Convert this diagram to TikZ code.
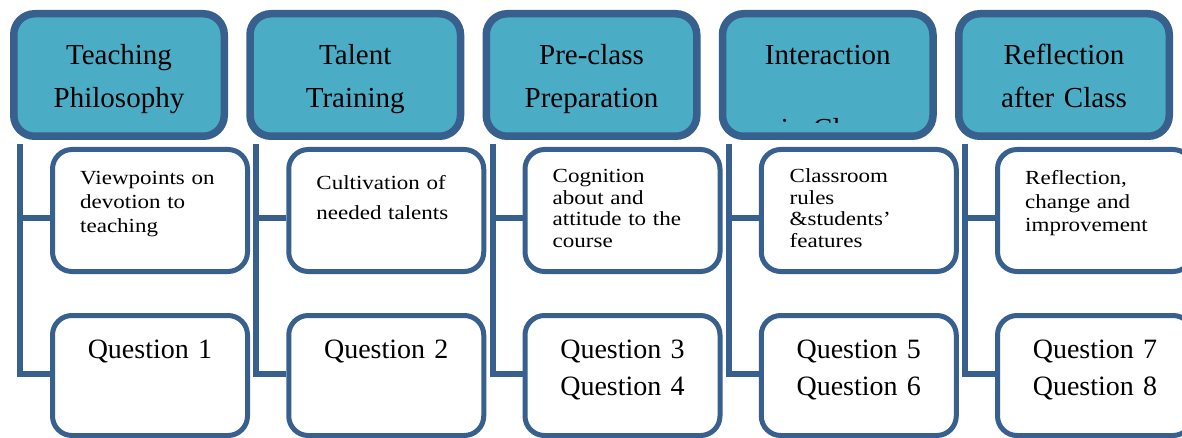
\documentclass[tikz,border=0pt]{standalone}
\usepackage{fontspec}
\setmainfont{Liberation Serif}
% slightly widened face for the small item texts
\newfontfamily\wideserif[FakeStretch=1.15]{Liberation Serif}
\definecolor{hdrfill}{HTML}{4BACC6}
\definecolor{edgeblue}{HTML}{37608F}
\begin{document}
\begin{tikzpicture}[x=1pt,y=-1pt,
  header/.style={draw=edgeblue, fill=hdrfill, line width=7.5pt, rounded corners=21pt,
    minimum width=210.5pt, minimum height=122.5pt, inner sep=0pt},
  leaf/.style={draw=edgeblue, fill=white, line width=5pt, rounded corners=19.5pt,
    minimum width=195pt, inner sep=0pt},
  conn/.style={draw=edgeblue, line width=6pt},
  htext/.style={anchor=base, text width=210pt, align=center, inner sep=0pt,
    font=\fontsize{29}{43}\selectfont},
  ltext/.style={anchor=base west, text width=170pt, align=left, inner sep=0pt},
  qtext/.style={anchor=base, text width=190pt, align=center, inner sep=0pt,
    font=\fontsize{28}{37}\selectfont}]
\clip (0,0) rectangle (1182,438);

% column headers
\node[header] (h1) at (119,75) {};
\node[header] (h2) at (355.25,75) {};
\node[header] (h3) at (591.5,75) {};
\node[header] (h4) at (827.75,75) {};
\node[header] (h5) at (1064,75) {};

\node[htext] (th1) at (119,65) {Teaching\\Philosophy};
\node[htext] (th2) at (355.25,65) {Talent\\Training};
\node[htext] (th3) at (591.5,65) {Pre-class\\Preparation};
\node[htext] (th4) at (827.75,65) {Interaction};
\begin{scope}
  % second header line runs past the box and is cut off
  \clip (740,100) rectangle (915,122.5);
  \node[htext] (th4b) at (828.5,138.5) {in Class};
\end{scope}
\node[htext] (th5) at (1064,65) {Reflection\\after Class};

% first-level items
\foreach \i in {1,...,5} {
  \node[leaf, minimum height=122pt] (ca\i) at (150+236.25*\i-236.25,210.5) {};
  \node[leaf, minimum height=120pt] (cb\i) at (150+236.25*\i-236.25,375.5) {};
}

% connectors from each header to its two items
\foreach \i in {1,...,5} {
  \coordinate (s\i) at ([xshift=10pt,yshift=-4pt]h\i.south west);
  \draw[conn] (s\i) |- ([yshift=2pt]cb\i.west);
  \draw[conn] ([yshift=-7.5pt]ca\i.west) -| (s\i);
}

% item texts
\node[ltext, font=\wideserif\fontsize{20}{24}\selectfont] (ta1) at (80,185)
  {Viewpoints on\\devotion to\\teaching};
\node[ltext, font=\wideserif\fontsize{20}{30}\selectfont] (ta2) at (316.25,190)
  {Cultivation of\\needed talents};
\node[ltext, font=\wideserif\fontsize{20}{21.5}\selectfont] (ta3) at (552.5,183)
  {Cognition\\about and\\attitude to the\\course};
\node[ltext, font=\wideserif\fontsize{20}{21.5}\selectfont] (ta4) at (789.5,183)
  {Classroom\\rules\\\&students’\\features};
\node[ltext, font=\wideserif\fontsize{20}{23.5}\selectfont] (ta5) at (1025,185)
  {Reflection,\\change and\\improvement};

\node[qtext] (tb1) at (150,358) {Question 1};
\node[qtext] (tb2) at (386.25,358) {Question 2};
\node[qtext] (tb3) at (622.5,358) {Question 3\\Question 4};
\node[qtext] (tb4) at (858.75,358) {Question 5\\Question 6};
\node[qtext] (tb5) at (1095,358) {Question 7\\Question 8};
\end{tikzpicture}
\end{document}
